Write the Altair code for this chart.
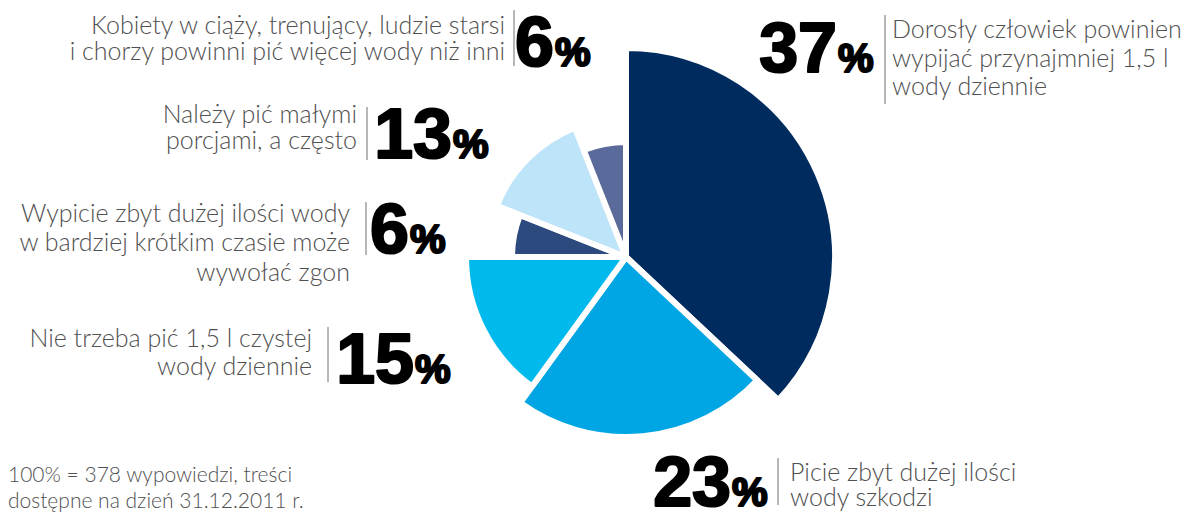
import altair as alt
import pandas as pd

# ---------------- data ----------------
categories = [
    "Dorosły człowiek powinien wypijać przynajmniej 1,5 l wody dziennie",
    "Picie zbyt dużej ilości wody szkodzi",
    "Nie trzeba pić 1,5 l czystej wody dziennie",
    "Wypicie zbyt dużej ilości wody w bardziej krótkim czasie może wywołać zgon",
    "Należy pić małymi porcjami, a często",
    "Kobiety w ciąży, trenujący, ludzie starsi i chorzy powinni pić więcej wody niż inni",
]
label_lines = [
    ["Dorosły człowiek powinien", "wypijać przynajmniej 1,5 l", "wody dziennie"],
    ["Picie zbyt dużej ilości", "wody szkodzi"],
    ["Nie trzeba pić 1,5 l czystej", "wody dziennie"],
    ["Wypicie zbyt dużej ilości wody", "w bardziej krótkim czasie może", "wywołać zgon"],
    ["Należy pić małymi", "porcjami, a często"],
    ["Kobiety w ciąży, trenujący, ludzie starsi", "i chorzy powinni pić więcej wody niż inni"],
]
values = [37, 23, 15, 6, 13, 6]
radii = [209, 180, 160, 114, 139, 115]
colors = ["#002b5f", "#00a5e3", "#00b9ed", "#2d4a7f", "#bde4f9", "#5a6b9b"]
footnote = ["100% = 378 wypowiedzi, treści", "dostępne na dzień 31.12.2011 r."]

# ---------------- layout (chart coordinates) ----------------
CX, CY = 618, 249
BODY_FONT = "Lato"
NUM_FONT = "Liberation Sans"
GRAY = "#505050"

# lines_x, align, baselines, sep_x, sep_y1, sep_y2, pct_x, pct_y
layout = [
    (884, "left", [30, 59, 87], 877, 7, 96, 830, 64),
    (782, "left", [473, 498], 770, 450, 497, 724, 498),
    (304, "right", [339, 367], 320, 319, 374, 407, 375),
    (342, "right", [214, 243, 273], 358, 194, 247, 402, 245),
    (349, "right", [115, 141], 359, 99, 152, 445, 150),
    (497, "right", [26, 52], 506, 2, 58, 547, 58),
]

df = pd.DataFrame({
    "category": categories,
    "value": values,
    "radius": radii,
    "order": list(range(len(values))),
})

arc = alt.Chart(df).transform_stack(
    stack="value", as_=["v0", "v1"], groupby=[], sort=[alt.SortField("order", order="ascending")]
).mark_arc(stroke="white", strokeWidth=6, strokeJoin="round").encode(
    theta=alt.Theta("v0:Q", scale=alt.Scale(domain=[0, 100], range=[0, 6.283185307179586])),
    theta2="v1:Q",
    radius=alt.Radius("radius:Q",
                      scale=alt.Scale(type="linear", domain=[0, 210], range=[0, 210], zero=True)),
    color=alt.Color("category:N", scale=alt.Scale(domain=categories, range=colors), legend=None),
    x=alt.value(CX),
    y=alt.value(CY),
)


def text_layer(s, x, y, align="left", size=25, font=BODY_FONT, color=GRAY, weight=300, stroke=None):
    kw = dict(align=align, baseline="alphabetic", fontSize=size, font=font, color=color, fontWeight=weight)
    if stroke is not None:
        kw.update(stroke=stroke, strokeWidth=2.2, strokeJoin="round")
    return alt.Chart(alt.Data(values=[{"t": s}])).mark_text(**kw).encode(
        text="t:N", x=alt.value(x), y=alt.value(y)
    )


def rule_layer(x, y1, y2):
    return alt.Chart(alt.Data(values=[{"a": 0}])).mark_rule(color="#707070", strokeWidth=1).encode(
        x=alt.value(x), y=alt.value(y1), y2=alt.value(y2)
    )


layers = [arc]
for i, (lx, al, bls, sx, sy1, sy2, px, py) in enumerate(layout):
    for line, b in zip(label_lines[i], bls):
        layers.append(text_layer(line, lx, b, align=al))
    layers.append(rule_layer(sx, sy1, sy2))
    layers.append(text_layer(str(values[i]), px - 1, py, align="right", size=70, font=NUM_FONT,
                             color="#000000", weight="bold", stroke="#000000"))
    layers.append(text_layer("%", px, py, align="left", size=40, font=NUM_FONT,
                             color="#000000", weight="bold", stroke="#000000"))

for line, b in zip(footnote, [474, 500]):
    layers.append(text_layer(line, 0, b, size=21))

chart = alt.layer(*layers).properties(
    width=1176, height=504, padding=0, autosize=alt.AutoSizeParams(type="none")
).configure_view(stroke=None)

chart.save("out.html", embed_options={"renderer": "svg", "actions": False})
